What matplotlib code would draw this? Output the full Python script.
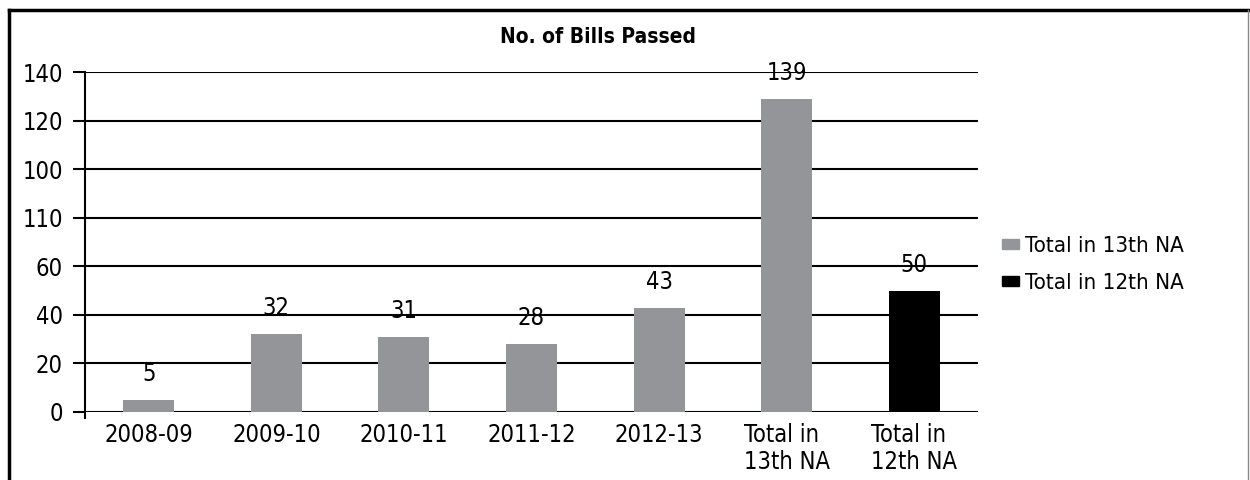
import matplotlib.pyplot as plt
from matplotlib.lines import Line2D
from matplotlib.patches import Patch

plt.rcParams['font.family'] = ['DejaVu Sans']
plt.rcParams['font.stretch'] = 'condensed'

categories = ['2008-09', '2009-10', '2010-11', '2011-12', '2012-13',
              'Total in\n13th NA', 'Total in\n12th NA']
# printed values above the bars
value_labels = [5, 32, 31, 28, 43, 139, 50]
# bar heights as drawn in the picture (the 139 bar is drawn short)
bar_heights = [5, 32, 31, 28, 43, 129, 50]
series = ['Total in 13th NA'] * 6 + ['Total in 12th NA']
ytick_pos = [0, 20, 40, 60, 80, 100, 120, 140]
ytick_labels = ['0', '20', '40', '60', '110', '100', '120', '140']

colors = {'Total in 13th NA': '#939598', 'Total in 12th NA': '#000000'}

fig = plt.figure(figsize=(12.5, 4.8), dpi=100)
ax = fig.add_axes([0.068, 0.1417, 0.7144, 0.7083])

x = range(len(categories))
ax.bar(x, bar_heights, width=0.4, color=[colors[s] for s in series], zorder=3)

for i, (h, v) in enumerate(zip(bar_heights, value_labels)):
    ax.annotate(str(v), (i, h), xytext=(0, 10), textcoords='offset points',
                ha='center', va='bottom', fontsize=17, zorder=4)

ax.set_xlim(-0.5, len(categories) - 0.5)
ax.set_ylim(0, 140)
ax.set_yticks(ytick_pos)
ax.set_yticklabels(ytick_labels, fontsize=17)
ax.set_xticks(list(x))
ax.set_xticklabels(categories, fontsize=17, multialignment='left', linespacing=1.15)
ax.tick_params(axis='x', length=0, pad=8)
ax.tick_params(axis='y', length=9, width=1.5, pad=7, direction='out')
ax.grid(axis='y', color='black', linewidth=1.5, zorder=1)
for s in ['top', 'right', 'bottom']:
    ax.spines[s].set_visible(False)
ax.spines['left'].set_linewidth(1.5)
ax.spines['left'].set_bounds(-2.5, 140)

fig.text(0.478, 0.922, 'No. of Bills Passed', ha='center', va='center',
         fontsize=15, fontweight='bold')

handles = [Patch(color=colors[k]) for k in ['Total in 13th NA', 'Total in 12th NA']]
fig.legend(handles, ['Total in 13th NA', 'Total in 12th NA'],
           loc='upper left', bbox_to_anchor=(0.8015, 0.508), frameon=False,
           fontsize=16, handlelength=0.75, handleheight=0.35,
           handletextpad=0.3, labelspacing=0.75, borderpad=0, borderaxespad=0)

# outer frame
fig.add_artist(Line2D([0.0072, 0.0072], [-0.01, 0.979], color='black', linewidth=2.5,
                      transform=fig.transFigure))
fig.add_artist(Line2D([0.0072, 0.9985], [0.979, 0.979], color='black', linewidth=2.5,
                      transform=fig.transFigure))
fig.add_artist(Line2D([0.9985, 0.9985], [-0.01, 0.979], color='#888888', linewidth=1,
                      transform=fig.transFigure))

fig.savefig('out.png', dpi=100)
